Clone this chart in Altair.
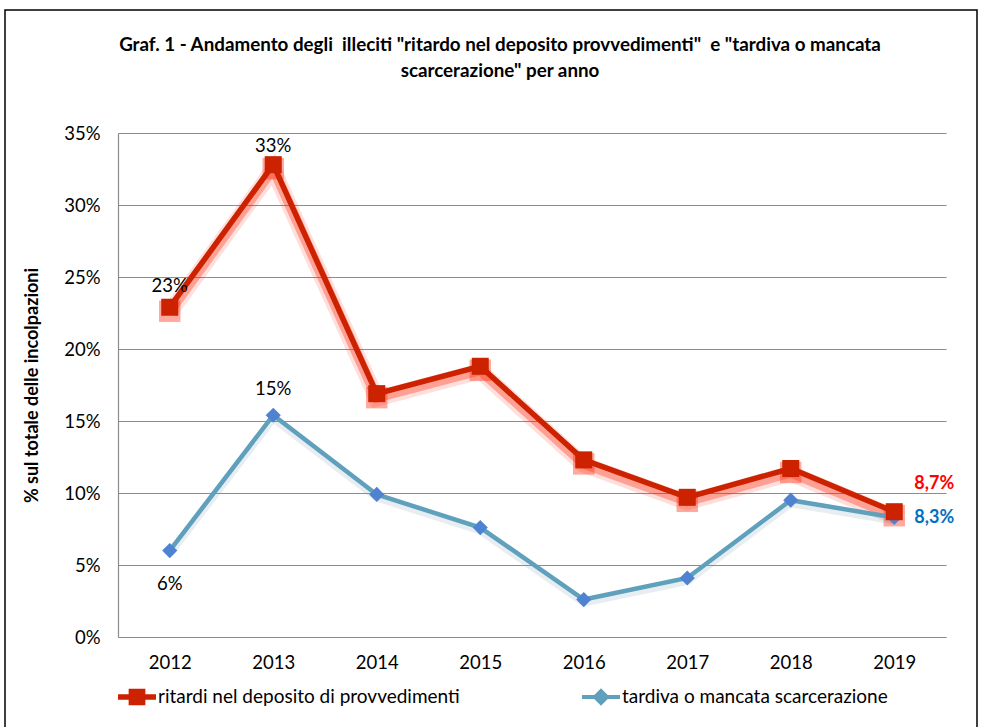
import altair as alt
import pandas as pd

# ---- data ----
years = ["2012", "2013", "2014", "2015", "2016", "2017", "2018", "2019"]
s_red = "ritardi nel deposito di provvedimenti"
s_blue = "tardiva o mancata scarcerazione"
ritardi = [22.9, 32.8, 16.9, 18.8, 12.3, 9.7, 11.7, 8.7]
tardiva = [6.0, 15.4, 9.9, 7.6, 2.6, 4.1, 9.5, 8.3]

label_texts = ["23%", "33%", "15%", "6%", "8,7%", "8,3%"]
label_years = ["2012", "2013", "2013", "2012", "2019", "2019"]
label_series = [s_red, s_red, s_blue, s_blue, s_red, s_blue]

y_ticks = [0, 5, 10, 15, 20, 25, 30, 35]

title_lines = [
    'Graf. 1 - Andamento degli \u00a0illeciti "ritardo nel deposito provvedimenti" \u00a0e "tardiva o mancata',
    'scarcerazione" per anno',
]
y_title = "% sul totale delle incolpazioni"

# ---- tables ----
df = pd.DataFrame({
    "year": years * 2,
    "value": ritardi + tardiva,
    "series": [s_red] * len(years) + [s_blue] * len(years),
})
lookup = {(r.series, r.year): r.value for r in df.itertuples()}
labels = pd.DataFrame({
    "year": label_years,
    "series": label_series,
    "text": label_texts,
    "value": [lookup[(s, y)] for s, y in zip(label_series, label_years)],
})

FONT = "Lato, Carlito, 'Open Sans', sans-serif"
RED = "#cc2200"
BLUE_LINE = "#5fa0bd"
BLUE_MARK = "#4f83d1"
GRID = "#8c8c8c"
FS = 18.5

x_enc = alt.X("year:O", title=None,
              axis=alt.Axis(labelAngle=0, ticks=False, domainColor=GRID, domainWidth=1.2,
                            labelFontSize=FS, labelPadding=16, labelColor="black", grid=False))
y_enc = alt.Y("value:Q", scale=alt.Scale(domain=[0, 35], nice=False),
              axis=alt.Axis(values=y_ticks, labelExpr="datum.value + '%'", ticks=False,
                            grid=True, gridColor=GRID, gridWidth=1.2, domainColor=GRID,
                            domainWidth=1.2, labelFontSize=FS, labelPadding=18,
                            labelColor="black", title=y_title, titleFontSize=18,
                            titleFontWeight="bold", titleColor="black", titlePadding=22))

base = alt.Chart(df).encode(x=x_enc, y=y_enc)
red_f = alt.datum.series == s_red
blue_f = alt.datum.series == s_blue

glow_red0 = base.transform_filter(red_f).mark_line(color="#ff2a10", strokeWidth=16, opacity=0.15, yOffset=5)
glow_red = base.transform_filter(red_f).mark_line(color="#ff2a10", strokeWidth=10, opacity=0.35, yOffset=4)
glow_red2 = base.transform_filter(red_f).mark_point(shape="square", filled=True, size=460, color="#ff2a10", opacity=0.4, yOffset=4)
glow_blue = base.transform_filter(blue_f).mark_line(color="#7a9cb0", strokeWidth=8, opacity=0.18, yOffset=3)
line_blue = base.transform_filter(blue_f).mark_line(color=BLUE_LINE, strokeWidth=4.5)
line_red = base.transform_filter(red_f).mark_line(color=RED, strokeWidth=5.5)
pts_blue = base.transform_filter(blue_f).mark_point(shape="diamond", filled=True, size=230, color=BLUE_MARK, opacity=1)
pts_red = base.transform_filter(red_f).mark_point(shape="square", filled=True, size=290, color=RED, opacity=1)

# legend-only layer (zero-size points, the legend carries the symbols)
path_sq = "M-1,-0.14H1V0.14H-1Z M-0.44,-0.44H0.44V0.44H-0.44Z"
path_dia = "M-1,-0.11H1V0.11H-1Z M0,-0.46L0.46,0L0,0.46L-0.46,0Z"
legend_layer = base.mark_point(filled=True, opacity=1, size=0, strokeWidth=0).encode(
    color=alt.Color("series:N", scale=alt.Scale(domain=[s_red, s_blue], range=[RED, BLUE_LINE]),
                    legend=alt.Legend(orient="none", legendX=0, legendY=545, direction="horizontal",
                                      title=None, symbolSize=1444, symbolStrokeWidth=0,
                                      symbolOpacity=1, labelOffset=2, labelFontSize=19,
                                      labelColor="black", columnPadding=122, padding=0,
                                      labelLimit=400)),
    shape=alt.Shape("series:N", scale=alt.Scale(domain=[s_red, s_blue], range=[path_sq, path_dia])),
)

def lab(text, dx, dy, color="black", bold=False, size=FS):
    return alt.Chart(labels).transform_filter(alt.datum.text == text).mark_text(
        dx=dx, dy=dy, color=color, fontSize=size, fontWeight="bold" if bold else "normal"
    ).encode(x=alt.X("year:O"), y=alt.Y("value:Q"), text="text:N")

labels_layers = [
    lab("23%", 0, -21),
    lab("33%", 0, -19),
    lab("15%", 0, -26),
    lab("6%", 0, 33),
    lab("8,7%", 40, -28, color="#ff0000", bold=True, size=18),
    lab("8,3%", 40, 1, color="#0070c0", bold=True, size=18),
]

frame = alt.Chart(alt.Data(values=[{}])).mark_rect(fillOpacity=0, stroke="black", strokeWidth=1.5).encode(
    x=alt.value(-113), x2=alt.value(859), y=alt.value(-123), y2=alt.value(640)
)

chart = alt.layer(
    frame, glow_red0, glow_red, glow_red2, glow_blue, line_blue, line_red, pts_blue, pts_red,
    *labels_layers, legend_layer
).properties(
    width=828, height=504,
    autosize=alt.AutoSizeParams(type="none"),
    padding={"left": 118, "top": 133, "right": 36, "bottom": 90},
    title=alt.TitleParams(text=title_lines, fontSize=18.8, fontWeight="bold", color="black",
                          anchor="middle", dx=-32, offset=-72, lineHeight=26),
).configure(font=FONT).configure_view(stroke="transparent")

chart.save("out.html", embed_options={"renderer": "svg", "actions": False})
